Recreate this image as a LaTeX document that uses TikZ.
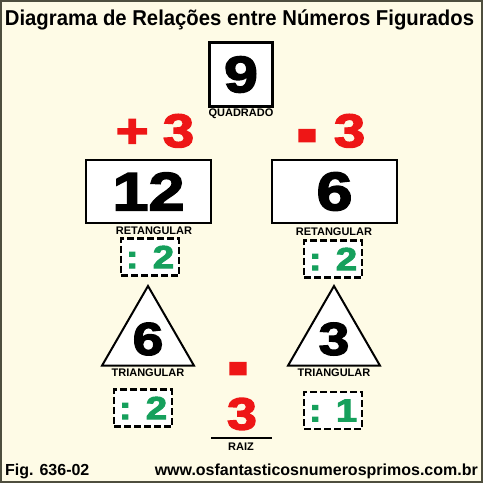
\documentclass[tikz,border=0pt]{standalone}
\usepackage{graphicx}
\usepackage{fontspec}
\setmainfont{Liberation Sans}
\newfontfamily\heavyfont{Liberation Sans}[BoldFeatures={FakeBold=3,FakeStretch=1.2}]
\usetikzlibrary{positioning,shapes.geometric}
\definecolor{paper}{RGB}{254,251,230}
\definecolor{frame}{RGB}{78,78,62}
\definecolor{opred}{RGB}{238,22,22}
\definecolor{numgreen}{RGB}{22,160,92}
\newcommand{\fatdash}{\raisebox{-0.25em}[0.45em][0pt]{\scalebox{1.1}[1.9]{-}}}

\begin{document}
\begin{tikzpicture}[x=1pt,y=-1pt,
	numbox/.style={draw,line width=2.5pt,fill=white,inner sep=0pt,font=\heavyfont\bfseries\fontsize{51}{53}\selectfont},
	tribox/.style={draw,line width=2pt,fill=white,regular polygon,regular polygon sides=3,minimum size=106pt,inner sep=0pt,font=\heavyfont\bfseries\fontsize{46}{48}\selectfont},
	divbox/.style={draw,line width=2.5pt,dash pattern=on 7pt off 3pt,fill=white,minimum width=58pt,minimum height=37pt,inner sep=0pt,text=numgreen,font=\heavyfont\bfseries\fontsize{32}{34}\selectfont},
	tag/.style={inner sep=0pt,font=\bfseries\fontsize{11}{12}\selectfont},
	redop/.style={inner sep=0pt,text=opred,font=\heavyfont\bfseries\fontsize{47}{49}\selectfont},
	foot/.style={inner sep=0pt,font=\bfseries\fontsize{16}{18}\selectfont}]
	\useasboundingbox (0,0) rectangle (483,483);
	\fill[paper] (0,0) rectangle (483,483);
	\draw[frame,line width=2pt] (1,1) rectangle (482,482);
	\node[anchor=base,inner sep=0pt,font=\bfseries\fontsize{21.5}{24}\selectfont] (title) at (239.5,25) {\scalebox{0.944}[1]{Diagrama de Relações entre Números Figurados}};
	% square number
	\node[numbox,minimum width=63pt,minimum height=64pt] (sq) at (241,74.5) {9};
	\node[tag] (sqlab) at (241,114) {QUADRADO};
	\node[redop,anchor=base] (plus) at (155,147) {+\hspace{0.3em}3};
	\node[redop,anchor=base] (minus) at (331,147) {\fatdash\hspace{0.35em}3};
	% rectangular numbers
	\node[numbox,minimum width=125pt,minimum height=63pt,font=\heavyfont\bfseries\fontsize{54}{56}\selectfont] (recA) at (148.5,191.5) {12};
	\node[numbox,minimum width=125pt,minimum height=63pt,font=\heavyfont\bfseries\fontsize{54}{56}\selectfont] (recB) at (334.5,191.5) {6};
	\node[tag] (recAlab) at (154,231) {RETANGULAR};
	\node[tag] (recBlab) at (334,232) {RETANGULAR};
	\node[divbox] (divA) at (150,257) {: 2};
	\node[divbox] (divB) at (333,259) {: 2};
	% triangular numbers
	\node[tribox] (triA) at (148,339) {6};
	\node[tribox] (triB) at (334,339) {3};
	\node[tag] (triAlab) at (148,373) {TRIANGULAR};
	\node[tag] (triBlab) at (334,373) {TRIANGULAR};
	\node[divbox] (divC) at (143,408) {: 2};
	\node[divbox] (divD) at (333,410.5) {: 1};
	% root
	\node[redop,anchor=base] (rootop) at (238,380) {\fatdash};
	\node[redop,font=\heavyfont\bfseries\fontsize{45}{47}\selectfont] (root) at (242,414) {3};
	\coordinate (barL) at (211,438);
	\coordinate (barR) at (272,438);
	\draw[line width=2pt] (barL) -- (barR);
	\node[tag] (rootlab) at (241,447) {RAIZ};
	\node[foot,anchor=base west] (fig) at (5,475) {Fig. 636-02};
	\node[foot,anchor=base east] (site) at (478,475) {www.osfantasticosnumerosprimos.com.br};
\end{tikzpicture}
\end{document}
